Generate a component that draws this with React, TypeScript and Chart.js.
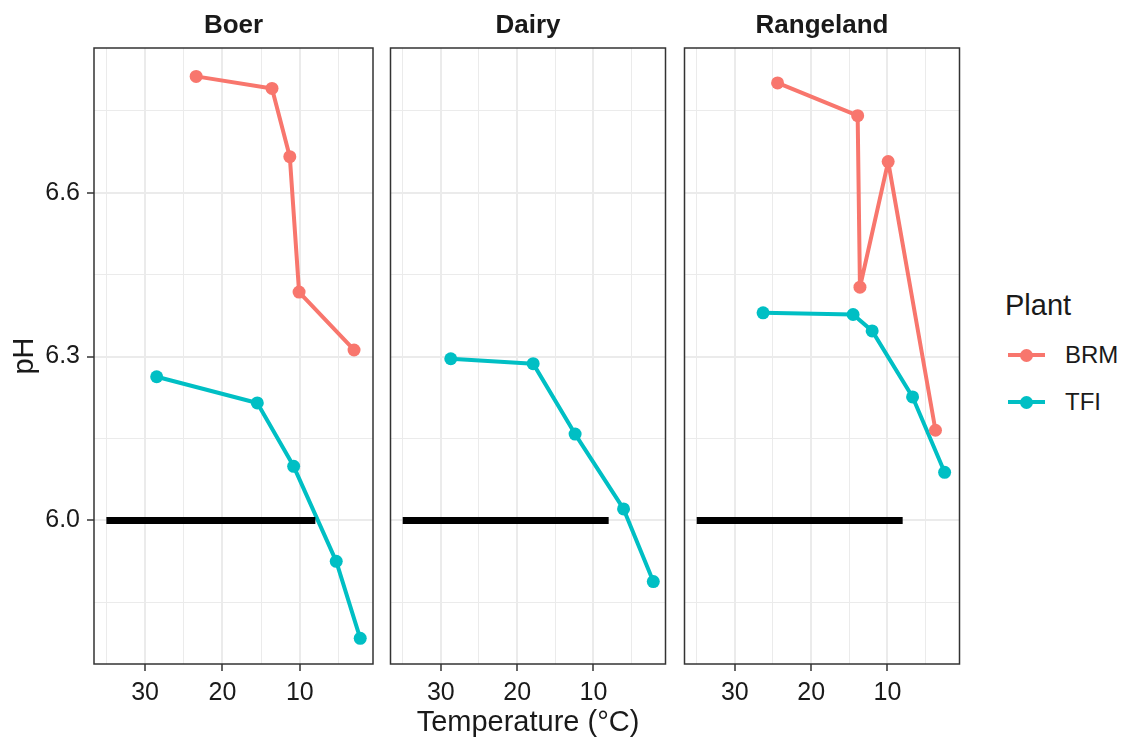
import React, { useEffect, useRef } from "react";
import { Chart, registerables } from "chart.js";

Chart.register(...registerables);

// ---------- data ----------
const facetNames = ["Boer", "Dairy", "Rangeland"];
const plantNames = ["BRM", "TFI"];
const plantColors = ["#F8766D", "#00BFC4"];

const boerBrmTemp = [23.4, 13.6, 11.3, 10.1, 3.0];
const boerBrmPh = [6.813, 6.791, 6.666, 6.418, 6.312];
const boerTfiTemp = [28.5, 15.5, 10.8, 5.3, 2.2];
const boerTfiPh = [6.263, 6.215, 6.099, 5.925, 5.784];

const dairyTfiTemp = [28.7, 17.9, 12.4, 6.05, 2.15];
const dairyTfiPh = [6.296, 6.287, 6.158, 6.021, 5.888];

const rangeBrmTemp = [24.4, 13.9, 13.6, 9.9, 3.7];
const rangeBrmPh = [6.801, 6.741, 6.427, 6.657, 6.165];
const rangeTfiTemp = [26.3, 14.5, 12.0, 6.7, 2.5];
const rangeTfiPh = [6.38, 6.377, 6.347, 6.226, 6.088];

const thresholdTemp = [35, 8];
const thresholdPh = [6.0, 6.0];

const xTickValues = [35, 30, 25, 20, 15, 10, 5];
const yTickValues = [5.85, 6.0, 6.15, 6.3, 6.45, 6.6, 6.75];

const X_MIN = 0.55;
const X_MAX = 36.6;
const Y_MIN = 5.737;
const Y_MAX = 6.865;

// ---------- layout ----------
const FONT = '"Liberation Sans", Arial, Helvetica, sans-serif';
const TEXT = "#1A1A1A";
const CANVAS_H = 740;
const PANEL_BOTTOM = 664;

const panelLayout = [
  { canvasLeft: 0, canvasWidth: 380, padLeft: 0, yWidth: 94, padRight: 7 },
  { canvasLeft: 384, canvasWidth: 288, padLeft: 4, yWidth: 0, padRight: 5 },
  { canvasLeft: 678, canvasWidth: 288, padLeft: 4, yWidth: 0, padRight: 5 },
];

type Series = { temp: number[]; ph: number[] } | null;
const facetSeries: { brm: Series; tfi: Series }[] = [
  { brm: { temp: boerBrmTemp, ph: boerBrmPh }, tfi: { temp: boerTfiTemp, ph: boerTfiPh } },
  { brm: null, tfi: { temp: dairyTfiTemp, ph: dairyTfiPh } },
  { brm: { temp: rangeBrmTemp, ph: rangeBrmPh }, tfi: { temp: rangeTfiTemp, ph: rangeTfiPh } },
];

const toPoints = (t: number[], p: number[]) => t.map((x, k) => ({ x, y: p[k] }));

const isMajorX = (v: number) => Math.round(v) % 10 === 0;
const isMajorY = (v: number) => Math.round(v * 100) % 30 === 0;

const borderPlugin = {
  id: "panelBorder",
  afterDraw(chart: any) {
    const { ctx, chartArea } = chart;
    ctx.save();
    ctx.strokeStyle = "#333333";
    ctx.lineWidth = 1.5;
    ctx.strokeRect(
      chartArea.left,
      chartArea.top,
      chartArea.right - chartArea.left,
      chartArea.bottom - chartArea.top
    );
    ctx.restore();
  },
};

function buildConfig(i: number): any {
  const lay = panelLayout[i];
  const s = facetSeries[i];
  const datasets: any[] = [];

  datasets.push({
    label: "threshold",
    data: toPoints(thresholdTemp, thresholdPh),
    showLine: true,
    borderColor: "#000000",
    borderWidth: 7,
    borderCapStyle: "butt",
    pointRadius: 0,
    order: 0,
  });

  const lineOrder = [4, 3];
  const pointOrder = [2, 1];
  [s.brm, s.tfi].forEach((ser, k) => {
    if (!ser) return;
    datasets.push({
      label: plantNames[k] + " line",
      data: toPoints(ser.temp, ser.ph),
      showLine: true,
      borderColor: plantColors[k],
      borderWidth: 4,
      borderCapStyle: "butt",
      borderJoinStyle: "round",
      pointRadius: 0,
      order: lineOrder[k],
    });
    datasets.push({
      label: plantNames[k],
      data: toPoints(ser.temp, ser.ph),
      showLine: false,
      pointRadius: 6.5,
      pointBackgroundColor: plantColors[k],
      pointBorderWidth: 0,
      order: pointOrder[k],
    });
  });

  return {
    type: "scatter",
    data: { datasets },
    plugins: [borderPlugin],
    options: {
      animation: false,
      responsive: false,
      events: [],
      layout: { padding: { top: 0, left: lay.padLeft, right: lay.padRight, bottom: 0 } },
      plugins: {
        legend: { display: false },
        tooltip: { enabled: false },
        title: {
          display: true,
          text: facetNames[i],
          fullSize: false,
          color: TEXT,
          font: { family: FONT, size: 26, weight: "bold", lineHeight: 1.2 },
          padding: { top: 10.4, bottom: 6.4 },
        },
      },
      scales: {
        x: {
          type: "linear",
          reverse: true,
          min: X_MIN,
          max: X_MAX,
          afterBuildTicks: (sc: any) => {
            sc.ticks = xTickValues.map((v) => ({ value: v }));
          },
          afterFit: (sc: any) => {
            sc.height = CANVAS_H - PANEL_BOTTOM;
          },
          border: { display: false },
          grid: {
            color: "#EBEBEB",
            lineWidth: (c: any) => (c.tick && isMajorX(c.tick.value) ? 2 : 1),
            drawTicks: true,
            tickLength: 7,
            tickWidth: 1.5,
            tickColor: (c: any) => (c.tick && isMajorX(c.tick.value) ? "#333333" : "rgba(0,0,0,0)"),
          },
          ticks: {
            autoSkip: false,
            maxRotation: 0,
            minRotation: 0,
            padding: 7,
            color: TEXT,
            font: { family: FONT, size: 25 },
            callback: (v: any) => (isMajorX(Number(v)) ? String(v) : ""),
          },
          title: {
            display: i === 1,
            text: "Temperature (°C)",
            color: TEXT,
            font: { family: FONT, size: 29, lineHeight: 1 },
            padding: { top: 0, bottom: 2.5 },
          },
        },
        y: {
          type: "linear",
          min: Y_MIN,
          max: Y_MAX,
          afterBuildTicks: (sc: any) => {
            sc.ticks = yTickValues.map((v) => ({ value: v }));
          },
          afterFit: (sc: any) => {
            sc.width = lay.yWidth;
          },
          border: { display: false },
          grid: {
            color: "#EBEBEB",
            lineWidth: (c: any) => (c.tick && isMajorY(c.tick.value) ? 2 : 1),
            drawTicks: i === 0,
            tickLength: 7,
            tickWidth: 1.5,
            tickColor: (c: any) => (c.tick && isMajorY(c.tick.value) ? "#333333" : "rgba(0,0,0,0)"),
          },
          ticks: {
            display: i === 0,
            autoSkip: false,
            padding: 7,
            color: TEXT,
            font: { family: FONT, size: 25 },
            callback: (v: any) => (isMajorY(Number(v)) ? Number(v).toFixed(1) : ""),
          },
          title: {
            display: i === 0,
            text: "pH",
            color: TEXT,
            font: { family: FONT, size: 29, lineHeight: 1 },
            padding: { top: 10.5, bottom: 0 },
          },
        },
      },
    },
  };
}

function LegendKey({ color, y }: { color: string; y: number }) {
  return (
    <>
      <div
        style={{
          position: "absolute",
          left: 1008,
          top: y - 2,
          width: 37,
          height: 4,
          background: color,
        }}
      />
      <div
        style={{
          position: "absolute",
          left: 1026.5 - 6.5,
          top: y - 6.5,
          width: 13,
          height: 13,
          borderRadius: "50%",
          background: color,
        }}
      />
    </>
  );
}

export default function App() {
  const refs = [useRef<HTMLCanvasElement>(null), useRef<HTMLCanvasElement>(null), useRef<HTMLCanvasElement>(null)];

  useEffect(() => {
    const charts = refs.map((r, i) => new Chart(r.current as HTMLCanvasElement, buildConfig(i)));
    return () => charts.forEach((c) => c.destroy());
  }, []);

  const legendRows = [
    { y: 355, k: 0 },
    { y: 402, k: 1 },
  ];

  return (
    <div
      style={{
        position: "absolute",
        left: 0,
        top: 0,
        width: 1124,
        height: 740,
        background: "#FFFFFF",
        fontFamily: FONT,
        overflow: "hidden",
      }}
    >
      {panelLayout.map((lay, i) => (
        <canvas
          key={i}
          ref={refs[i]}
          width={lay.canvasWidth}
          height={CANVAS_H}
          style={{
            position: "absolute",
            left: lay.canvasLeft,
            top: 0,
            width: lay.canvasWidth,
            height: CANVAS_H,
          }}
        />
      ))}
      <div
        style={{
          position: "absolute",
          left: 1005,
          top: 290.5,
          fontSize: 29,
          lineHeight: "29px",
          color: TEXT,
          whiteSpace: "nowrap",
        }}
      >
        Plant
      </div>
      {legendRows.map(({ y, k }) => (
        <React.Fragment key={k}>
          <LegendKey color={plantColors[k]} y={y} />
          <div
            style={{
              position: "absolute",
              left: 1065,
              top: y - 15,
              height: 30,
              lineHeight: "30px",
              fontSize: 24,
              color: TEXT,
              whiteSpace: "nowrap",
            }}
          >
            {plantNames[k]}
          </div>
        </React.Fragment>
      ))}
    </div>
  );
}
